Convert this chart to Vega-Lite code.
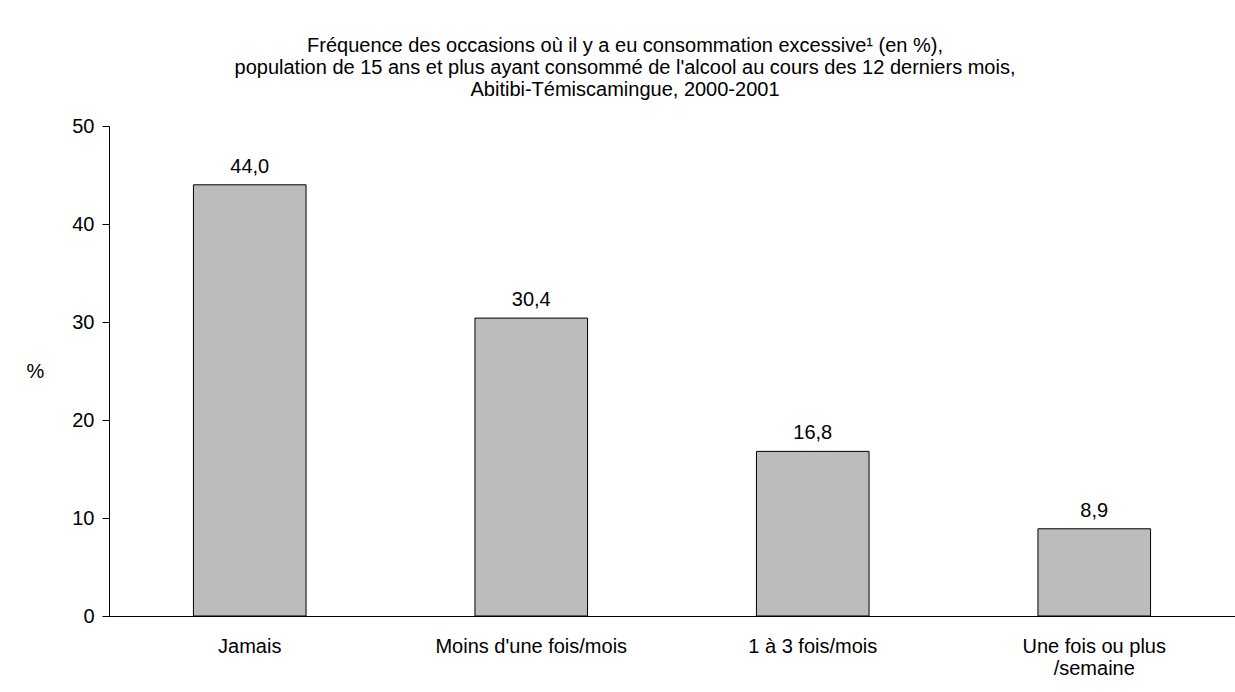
{
  "$schema": "https://vega.github.io/schema/vega-lite/v6.json",
  "width": 1126,
  "height": 490,
  "autosize": "none",
  "padding": {"left": 109, "top": 126, "right": 0, "bottom": 76},
  "background": "white",
  "title": {
    "text": ["Fréquence des occasions où il y a eu consommation excessive¹ (en %),", "population de 15 ans et plus ayant consommé de l'alcool au cours des 12 derniers mois,", "Abitibi-Témiscamingue, 2000-2001"],
    "font": "Liberation Sans",
    "fontSize": 20,
    "fontWeight": "normal",
    "color": "black",
    "lineHeight": 22,
    "anchor": "middle",
    "frame": "group",
    "dx": -47,
    "offset": 16
  },
  "config": {
    "view": {"stroke": null},
    "font": "Liberation Sans"
  },
  "data": {
    "values": [
      {"cat": "Jamais", "pct": 44.0, "label": "44,0"},
      {"cat": "Moins d'une fois/mois", "pct": 30.4, "label": "30,4"},
      {"cat": "1 à 3 fois/mois", "pct": 16.8, "label": "16,8"},
      {"cat": "Une fois ou plus|/semaine", "pct": 8.9, "label": "8,9"}
    ]
  },
  "encoding": {
    "x": {
      "field": "cat",
      "type": "nominal",
      "sort": null,
      "scale": {"paddingInner": 0.6, "paddingOuter": 0.3},
      "axis": {
        "title": null,
        "labelAngle": 0,
        "ticks": false,
        "domainColor": "black",
        "domainWidth": 1,
        "labelColor": "black",
        "labelFontSize": 20,
        "labelFont": "Liberation Sans",
        "labelPadding": 20,
        "labelBaseline": "top",
        "labelLineHeight": 22,
        "labelLimit": 0,
        "labelOverlap": false,
        "labelExpr": "split(datum.label, '|')"
      }
    },
    "y": {
      "field": "pct",
      "type": "quantitative",
      "scale": {"domain": [0, 50], "nice": false},
      "axis": {
        "title": "%",
        "titleAngle": 0,
        "titleAlign": "center",
        "titleBaseline": "middle",
        "titleX": -74,
        "titleY": 245,
        "titleFontSize": 20,
        "titleFontWeight": "normal",
        "titleFont": "Liberation Sans",
        "titleColor": "black",
        "values": [0, 10, 20, 30, 40, 50],
        "grid": false,
        "domainColor": "black",
        "tickColor": "black",
        "tickSize": 7,
        "labelPadding": 8,
        "labelFontSize": 20,
        "labelFont": "Liberation Sans",
        "labelColor": "black"
      }
    }
  },
  "layer": [
    {
      "mark": {"type": "bar", "fill": "#bcbcbc", "stroke": "black", "strokeWidth": 1}
    },
    {
      "mark": {"type": "text", "baseline": "bottom", "dy": -8, "fontSize": 20, "font": "Liberation Sans", "color": "black"},
      "encoding": {"text": {"field": "label"}}
    }
  ]
}
